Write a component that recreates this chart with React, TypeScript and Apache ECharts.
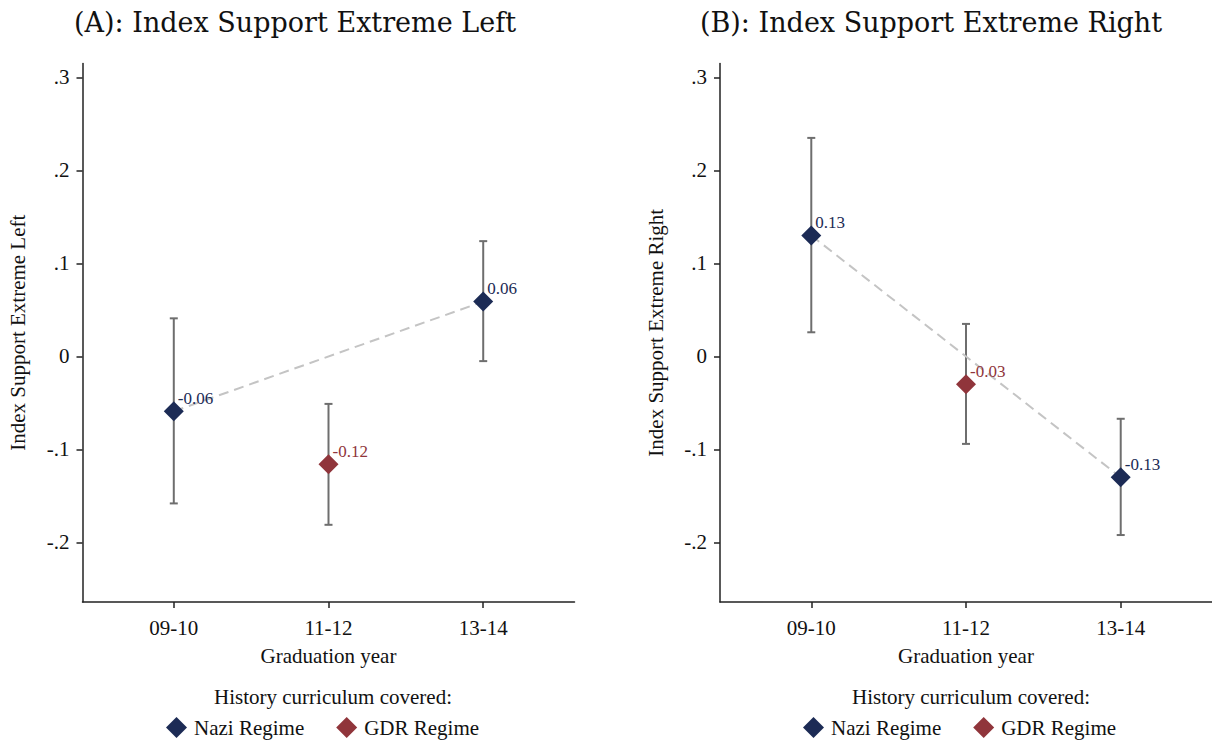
import React, { useEffect, useRef } from 'react';
import * as echarts from 'echarts';

const categories = ['09-10', '11-12', '13-14'];
const yTicks = [-0.2, -0.1, 0, 0.1, 0.2, 0.3];
const yTickLabels = ['-.2', '-.1', '0', '.1', '.2', '.3'];

// panel A: extreme left
const leftNaziX = [1, 3];
const leftNaziEst = [-0.059, 0.059];
const leftNaziLo = [-0.158, -0.005];
const leftNaziHi = [0.041, 0.124];
const leftGdrX = [2];
const leftGdrEst = [-0.116];
const leftGdrLo = [-0.181];
const leftGdrHi = [-0.051];

// panel B: extreme right
const rightNaziX = [1, 3];
const rightNaziEst = [0.13, -0.13];
const rightNaziLo = [0.026, -0.192];
const rightNaziHi = [0.235, -0.067];
const rightGdrX = [2];
const rightGdrEst = [-0.03];
const rightGdrLo = [-0.094];
const rightGdrHi = [0.035];

const NAVY = '#1c2b55';
const RED = '#90353b';
const SERIF = '"Liberation Serif", "Times New Roman", serif';

const zip = (xs: number[], ...cols: number[][]) => xs.map((x, i) => [x, ...cols.map(c => c[i])]);

const errorBarRender = (params: any, api: any) => {
    const x = api.value(0);
    const top = api.coord([x, api.value(2)]);
    const bot = api.coord([x, api.value(1)]);
    const cap = 4;
    const style = { stroke: '#6e6e6e', lineWidth: 2 };
    return {
        type: 'group',
        children: [
            { type: 'line', shape: { x1: top[0], y1: top[1], x2: bot[0], y2: bot[1] }, style },
            { type: 'line', shape: { x1: top[0] - cap, y1: top[1], x2: top[0] + cap, y2: top[1] }, style },
            { type: 'line', shape: { x1: bot[0] - cap, y1: bot[1], x2: bot[0] + cap, y2: bot[1] }, style }
        ]
    };
};

const pointLabel = (color: string) => ({
    show: true,
    position: 'right',
    distance: 0,
    offset: [-6, -13],
    formatter: (p: any) => p.value[1].toFixed(2),
    color,
    fontFamily: SERIF,
    fontSize: 17
});

const panelSeries = (idx: number, naziX: number[], naziEst: number[], naziLo: number[], naziHi: number[],
    gdrX: number[], gdrEst: number[], gdrLo: number[], gdrHi: number[]) => [
    {
        type: 'custom',
        xAxisIndex: idx,
        yAxisIndex: idx,
        renderItem: errorBarRender,
        data: [...zip(naziX, naziLo, naziHi), ...zip(gdrX, gdrLo, gdrHi)],
        z: 1,
        silent: true
    },
    {
        type: 'line',
        xAxisIndex: idx,
        yAxisIndex: idx,
        data: zip(naziX, naziEst),
        symbol: 'none',
        lineStyle: { color: '#c4c4c4', width: 2, type: [10, 6] },
        z: 2,
        silent: true
    },
    {
        name: 'Nazi Regime',
        type: 'scatter',
        xAxisIndex: idx,
        yAxisIndex: idx,
        symbol: 'diamond',
        symbolSize: 20,
        itemStyle: { color: NAVY, opacity: 1 },
        label: pointLabel(NAVY),
        data: zip(naziX, naziEst),
        z: 3
    },
    {
        name: 'GDR Regime',
        type: 'scatter',
        xAxisIndex: idx,
        yAxisIndex: idx,
        symbol: 'diamond',
        symbolSize: 20,
        itemStyle: { color: RED, opacity: 1 },
        label: pointLabel(RED),
        data: zip(gdrX, gdrEst),
        z: 3
    }
];

const xAxisFor = (idx: number) => ({
    type: 'value',
    gridIndex: idx,
    min: 0.41,
    max: 3.59,
    name: 'Graduation year',
    nameLocation: 'middle',
    nameGap: 43,
    nameTextStyle: { fontFamily: SERIF, fontSize: 21, color: '#111' },
    axisLine: { onZero: false, lineStyle: { color: '#222', width: 1.5 } },
    axisTick: { show: true, length: 6, lineStyle: { color: '#222', width: 1.5 }, customValues: [1, 2, 3] },
    axisLabel: {
        customValues: [1, 2, 3],
        formatter: (v: number) => categories[Math.round(v) - 1] ?? '',
        fontFamily: SERIF,
        fontSize: 21,
        color: '#111',
        margin: 15
    },
    splitLine: { show: false }
});

const yAxisFor = (idx: number, name: string) => ({
    type: 'value',
    gridIndex: idx,
    min: -0.264,
    max: 0.315,
    name,
    nameLocation: 'middle',
    nameGap: 54,
    nameTextStyle: { fontFamily: SERIF, fontSize: 21, color: '#111' },
    axisLine: { show: true, onZero: false, lineStyle: { color: '#222', width: 1.5 } },
    axisTick: { show: true, length: 6, lineStyle: { color: '#222', width: 1.5 }, customValues: yTicks },
    axisLabel: {
        customValues: yTicks,
        formatter: (v: number) => yTickLabels[yTicks.findIndex(t => Math.abs(t - v) < 1e-9)] ?? '',
        fontFamily: SERIF,
        fontSize: 21,
        color: '#111',
        margin: 13
    },
    splitLine: { show: false }
});

const legendFor = (left: number) => ({
    left,
    top: 712,
    orient: 'horizontal',
    icon: 'diamond',
    itemWidth: 21,
    itemHeight: 21,
    itemGap: 32,
    data: ['Nazi Regime', 'GDR Regime'],
    textStyle: { fontFamily: SERIF, fontSize: 21, color: '#111', padding: [0, 0, 0, 2] },
    itemStyle: { opacity: 1 },
    selectedMode: false
});

const titleStyle = { fontFamily: '"DejaVu Serif", serif', fontWeight: 'normal', fontSize: 27, color: '#111' };
const subStyle = { fontFamily: SERIF, fontWeight: 'normal', fontSize: 21, color: '#111' };

export default function App() {
    const chartRef = useRef<HTMLDivElement>(null);

    useEffect(() => {
        if (!chartRef.current) return;
        document.body.style.margin = '0';
        const chart = echarts.init(chartRef.current, undefined, { renderer: 'svg' });

        const option = {
            animation: false,
            backgroundColor: '#ffffff',
            title: [
                { text: '(A): Index Support Extreme Left', left: 290, top: 4, textAlign: 'center', textStyle: titleStyle },
                { text: '(B): Index Support Extreme Right', left: 926, top: 4, textAlign: 'center', textStyle: titleStyle },
                { text: 'History curriculum covered:', left: 328, top: 681, textAlign: 'center', textStyle: subStyle },
                { text: 'History curriculum covered:', left: 966, top: 681, textAlign: 'center', textStyle: subStyle }
            ],
            legend: [legendFor(161), legendFor(798)],
            grid: [
                { left: 82.5, top: 63.5, width: 492, height: 538.5 },
                { left: 720, top: 63.5, width: 492, height: 538.5 }
            ],
            xAxis: [xAxisFor(0), xAxisFor(1)],
            yAxis: [yAxisFor(0, 'Index Support Extreme Left'), yAxisFor(1, 'Index Support Extreme Right')],
            series: [
                ...panelSeries(0, leftNaziX, leftNaziEst, leftNaziLo, leftNaziHi, leftGdrX, leftGdrEst, leftGdrLo, leftGdrHi),
                ...panelSeries(1, rightNaziX, rightNaziEst, rightNaziLo, rightNaziHi, rightGdrX, rightGdrEst, rightGdrLo, rightGdrHi)
            ]
        };

        chart.setOption(option);

        return () => {
            chart.dispose();
        };
    }, []);

    return <div ref={chartRef} style={{ width: 1212, height: 742 }} />;
}
